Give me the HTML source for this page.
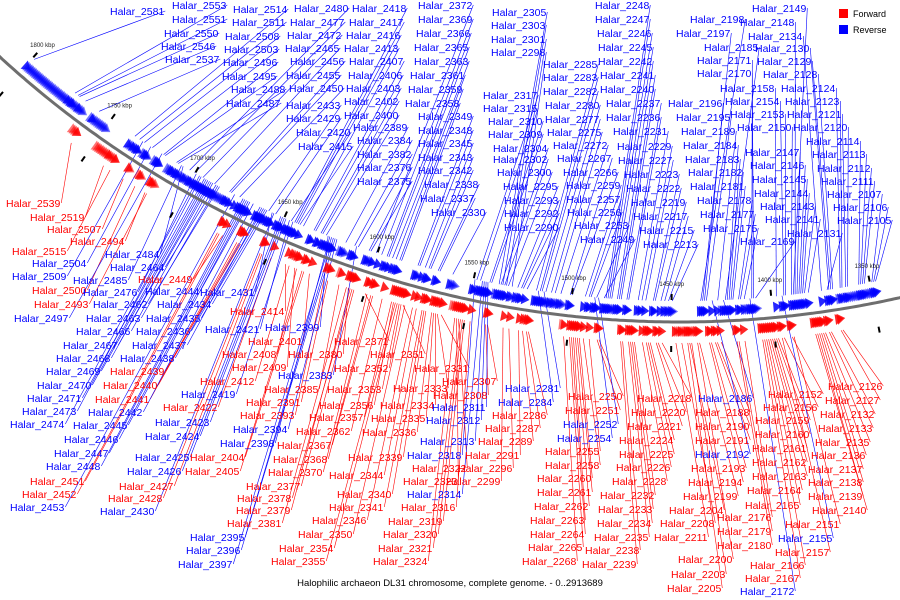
<!DOCTYPE html>
<html><head><meta charset="utf-8"><style>
html,body{margin:0;padding:0;background:#fff;width:900px;height:600px;overflow:hidden}
svg{display:block}
text{font-family:"Liberation Sans",sans-serif}
</style></head><body>
<svg id="chart" width="900" height="600" viewBox="0 0 900 600" xmlns="http://www.w3.org/2000/svg">
<g id="links"></g>
<g id="feats"></g>
<g id="axis"></g>
<g id="labs"></g>
<g>
<rect x="839" y="9" width="9" height="9" fill="#ff0000"/>
<text x="853" y="17" font-size="9">Forward</text>
<rect x="839" y="25" width="9" height="9" fill="#0000ff"/>
<text x="853" y="33" font-size="9">Reverse</text>
</g>
<text x="450" y="586" font-size="9.5" text-anchor="middle">Halophilic archaeon DL31 chromosome, complete genome. - 0..2913689</text>
</svg>
<script>
const geneLabels = [
[2581,'b',110,11],[2553,'b',172,5],[2551,'b',172,19],[2550,'b',164,33],[2546,'b',161,46],[2537,'b',165,59],
[2514,'b',233,9],[2511,'b',232,22],[2508,'b',225,36],[2503,'b',224,49],[2496,'b',223,62],[2495,'b',222,76],[2488,'b',231,89],[2487,'b',226,103],
[2480,'b',294,8],[2477,'b',290,22],[2472,'b',287,35],[2465,'b',285,48],[2456,'b',290,61],[2455,'b',286,75],[2450,'b',289,88],[2433,'b',286,105],[2429,'b',286,118],[2420,'b',296,132],[2415,'b',298,146],
[2418,'b',352,8],[2417,'b',349,22],[2416,'b',346,35],[2413,'b',344,48],[2407,'b',349,61],[2406,'b',348,75],[2403,'b',346,88],[2402,'b',344,101],[2400,'b',344,115],[2389,'b',353,127],[2384,'b',357,140],[2382,'b',357,154],[2376,'b',357,167],[2375,'b',357,181],
[2372,'b',418,5],[2369,'b',418,19],[2366,'b',416,33],[2365,'b',414,47],[2363,'b',414,61],[2361,'b',410,75],[2359,'b',408,89],[2358,'b',405,103],[2349,'b',418,116],[2348,'b',418,130],[2345,'b',418,143],[2343,'b',418,157],[2342,'b',418,170],[2338,'b',424,184],[2337,'b',420,198],[2330,'b',431,212],
[2305,'b',492,12],[2303,'b',491,25],[2301,'b',491,39],[2298,'b',491,52],[2317,'b',483,95],[2315,'b',483,108],[2310,'b',488,121],[2309,'b',488,134],[2304,'b',493,148],[2302,'b',493,159],[2300,'b',497,172],[2295,'b',503,186],[2293,'b',504,200],[2292,'b',504,213],[2290,'b',504,227],
[2285,'b',543,64],[2283,'b',543,77],[2282,'b',543,91],[2280,'b',545,105],[2277,'b',545,119],[2275,'b',547,132],[2272,'b',553,145],[2267,'b',557,158],[2266,'b',563,172],[2259,'b',566,185],[2257,'b',566,199],[2256,'b',567,212],[2253,'b',574,225],[2249,'b',580,239],
[2248,'b',595,5],[2247,'b',595,19],[2246,'b',597,33],[2245,'b',598,47],[2242,'b',598,61],[2241,'b',600,75],[2240,'b',600,89],[2237,'b',606,103],[2236,'b',606,117],[2231,'b',613,131],[2229,'b',617,146],[2227,'b',618,160],[2223,'b',624,174],[2222,'b',626,188],[2219,'b',631,202],[2217,'b',633,216],[2215,'b',639,230],[2213,'b',643,244],
[2198,'b',690,19],[2197,'b',676,33],[2185,'b',704,47],[2171,'b',697,60],[2170,'b',697,73],[2196,'b',668,103],[2195,'b',676,117],[2189,'b',681,131],[2184,'b',683,145],[2183,'b',685,159],[2182,'b',688,172],[2181,'b',690,186],[2178,'b',697,200],[2177,'b',700,214],[2175,'b',703,228],[2169,'b',740,241],
[2149,'b',752,8],[2148,'b',740,22],[2134,'b',748,36],[2130,'b',755,48],[2129,'b',757,61],[2128,'b',763,74],[2158,'b',720,88],[2154,'b',725,101],[2153,'b',730,114],[2150,'b',737,127],[2147,'b',745,152],[2146,'b',750,165],[2145,'b',752,179],[2144,'b',754,193],[2143,'b',760,206],[2141,'b',765,219],[2131,'b',787,233],
[2124,'b',781,88],[2123,'b',785,101],[2121,'b',787,114],[2120,'b',793,127],[2114,'b',806,141],[2113,'b',812,154],[2112,'b',817,168],[2111,'b',821,181],[2107,'b',827,194],[2106,'b',833,207],[2105,'b',837,220],
[2539,'r',6,203],[2519,'r',30,217],[2507,'r',47,229],[2494,'r',70,241],[2515,'r',12,251],[2484,'b',105,254],[2504,'b',32,263],[2464,'b',110,267],[2509,'b',12,276],[2500,'r',32,290],[2449,'r',138,279],[2485,'b',73,280],[2444,'b',145,291],[2493,'r',34,304],[2476,'b',83,292],[2431,'b',200,292],[2462,'b',93,304],[2434,'b',157,304],[2497,'b',14,318],[2463,'b',86,318],[2435,'b',146,318],[2414,'r',230,311],[2466,'b',76,331],[2436,'b',136,331],[2421,'b',205,329],[2399,'b',265,327],[2467,'b',63,345],[2437,'b',132,345],[2401,'r',248,341],[2371,'r',334,341],[2408,'r',222,354],[2380,'r',288,354],[2351,'r',370,354],[2468,'b',56,358],[2438,'b',120,358],[2409,'r',232,367],[2352,'r',334,368],[2331,'r',414,368],[2469,'b',46,371],[2439,'r',110,371],[2383,'b',278,375],[2412,'r',200,381],[2307,'r',442,381],[2470,'b',37,385],[2440,'r',103,385],[2385,'r',264,389],[2353,'r',327,389],[2333,'r',393,388],[2308,'r',433,395],[2281,'b',505,388],[2419,'b',181,394],[2391,'r',246,402],[2356,'r',319,405],[2334,'r',380,405],[2311,'b',432,407],[2284,'b',498,402],[2471,'b',27,398],[2441,'r',95,399],[2422,'r',163,407],[2393,'r',240,415],[2357,'r',309,417],[2335,'r',371,418],[2312,'b',426,420],[2286,'r',492,415],[2473,'b',22,411],[2442,'b',88,412],[2423,'b',155,422],[2394,'b',233,429],[2362,'r',296,431],[2336,'r',362,432],[2474,'b',10,424],[2445,'b',73,425],[2287,'r',485,428],[2424,'b',145,436],[2398,'b',220,443],[2367,'r',277,445],[2313,'b',420,441],[2289,'r',478,441],[2446,'b',64,439],[2318,'b',407,455],[2291,'r',465,455],[2447,'b',54,453],[2425,'b',135,457],[2404,'r',190,457],[2368,'r',273,459],[2339,'r',348,457],[2322,'r',412,468],[2296,'r',458,468],[2448,'b',46,466],[2426,'b',127,471],[2405,'r',185,471],[2370,'r',268,472],[2344,'r',329,475],[2323,'r',403,481],[2299,'r',446,481],[2451,'r',30,481],[2427,'r',119,486],[2377,'r',246,486],[2340,'r',337,494],[2314,'b',407,494],[2452,'r',22,494],[2428,'r',108,498],[2378,'r',237,498],[2341,'r',329,507],[2316,'r',401,507],[2453,'b',10,507],[2430,'b',100,511],[2379,'r',236,510],[2346,'r',312,520],[2319,'r',388,521],[2381,'r',227,523],[2350,'r',298,534],[2320,'r',383,534],[2395,'b',190,537],[2354,'r',279,548],[2321,'r',378,548],[2396,'b',186,550],[2355,'r',271,561],[2324,'r',373,561],[2397,'b',178,564],
[2250,'r',568,396],[2251,'r',565,410],[2252,'b',563,424],[2254,'b',557,438],[2255,'r',545,451],[2258,'r',545,465],[2260,'r',537,478],[2261,'r',537,492],[2262,'r',534,506],[2263,'r',530,520],[2264,'r',530,534],[2265,'r',528,547],[2268,'r',522,561],
[2218,'r',637,398],[2220,'r',631,412],[2221,'r',627,426],[2224,'r',619,440],[2225,'r',619,454],[2226,'r',616,467],[2228,'r',612,481],[2232,'r',600,495],[2233,'r',598,509],[2234,'r',597,523],[2235,'r',594,537],[2238,'r',585,550],[2239,'r',582,564],
[2186,'b',698,398],[2188,'r',695,412],[2190,'r',695,426],[2191,'r',695,440],[2192,'b',695,454],[2193,'r',691,468],[2194,'r',688,482],[2199,'r',683,496],[2204,'r',669,510],[2208,'r',660,523],[2211,'r',654,537],[2200,'r',678,559],[2203,'r',671,574],[2205,'r',667,588],
[2152,'r',768,394],[2156,'r',763,407],[2159,'r',755,420],[2160,'r',755,434],[2161,'r',752,448],[2162,'r',752,462],[2163,'r',752,476],[2164,'r',747,490],[2165,'r',745,505],[2176,'r',717,517],[2179,'r',717,531],[2180,'r',717,545],[2166,'r',750,565],[2167,'r',745,578],[2172,'b',740,591],
[2126,'r',828,386],[2127,'r',825,400],[2132,'r',820,414],[2133,'r',818,428],[2135,'r',815,442],[2136,'r',811,455],[2137,'r',808,469],[2138,'r',808,482],[2139,'r',808,496],[2140,'r',812,510],[2151,'r',785,524],[2155,'b',778,538],[2157,'r',775,552]
];
const kbpTicks = [1800,1750,1700,1650,1600,1550,1500,1450,1400,1350];
const geneStart = 2581, geneEnd = 2105;

const NS='http://www.w3.org/2000/svg';
const CX=680, CY=-683, R=1005;
const thA=-0.716, thB=0.20;
function geneAngle(g){return thA+(geneStart-g)/(geneStart-geneEnd)*(thB-thA);}
function kbpAngle(k){return -0.718+(1800-k)*0.002027;}
function pt(th,r){return [CX+r*Math.sin(th), CY+r*Math.cos(th)];}
function mk(tag,attrs,parent){const e=document.createElementNS(NS,tag);for(const k in attrs)e.setAttribute(k,attrs[k]);parent.appendChild(e);return e;}

const links=document.getElementById('links'),feats=document.getElementById('feats'),axis=document.getElementById('axis'),labs=document.getElementById('labs');

let d='';
for(let th=-0.78;th<=0.3;th+=0.004){const p=pt(th,R);d+=(d?'L':'M')+p[0].toFixed(1)+','+p[1].toFixed(1);}
const arc=mk('path',{d:d,fill:'none',stroke:'#6e6e6e','stroke-width':3},axis);



kbpTicks.forEach(k=>{
  const th=kbpAngle(k);
  const a=pt(th,R-22),b=pt(th,R-28);
  const t=mk('line',{x1:a[0],y1:a[1],x2:b[0],y2:b[1],stroke:'#000','stroke-width':2},axis);
  
  
  const a2=pt(th,R+24),b2=pt(th,R+30);
  const t2=mk('line',{x1:a2[0],y1:a2[1],x2:b2[0],y2:b2[1],stroke:'#000','stroke-width':2},axis);
  
  
  const lp=pt(th,R-36);
  const tx=mk('text',{x:lp[0],y:lp[1],'font-size':6,'font-family':'Liberation Serif, serif','text-anchor':'middle',fill:'#222'},axis);
  tx.textContent=k+' kbp';
  
  
});

function drawFeature(num,s,op){
  const th=geneAngle(num);
  const r0=s==='r'?R+4:R-5, r1=s==='r'?R+15:R-16;
  const dt=4/R;
  const p1=pt(th-dt,r0),p2=pt(th-dt,r1),p3=pt(th+dt,(r0+r1)/2);
  const f=mk('polygon',{points:[p1,p2,p3].map(p=>p[0].toFixed(1)+','+p[1].toFixed(1)).join(' '),fill:s==='r'?'#f00':'#00f','fill-opacity':op},feats);
  
  
}
// unlabeled genes: strand taken from nearest labeled gene
const labeledNums=geneLabels.map(g=>g[0]);
for(let n=geneEnd;n<=geneStart;n++){
  if(labeledNums.indexOf(n)>=0) continue;
  let best=null,bd=1e9;
  geneLabels.forEach(g=>{const dd=Math.abs(g[0]-n);if(dd<bd){bd=dd;best=g;}});
  drawFeature(n,best[1],0.55);
}

geneLabels.forEach(g=>{
  const [num,s,x,y]=g;
  const col=s==='r'?'#ff0000':'#0000ff';
  const th=geneAngle(num);
  drawFeature(num,s,0.85);
  const t=mk('text',{x:x,y:y+4,'font-size':10.5,fill:col},labs);
  t.textContent='Halar_'+num;
  
  
  const w=t.getComputedTextLength();
  const e=pt(th,s==='r'?R+21:R-21);
  const l=mk('line',{x1:x+w+1,y1:y,x2:e[0],y2:e[1],stroke:col,'stroke-width':0.6},links);
  
  
});
</script>
</body></html>
